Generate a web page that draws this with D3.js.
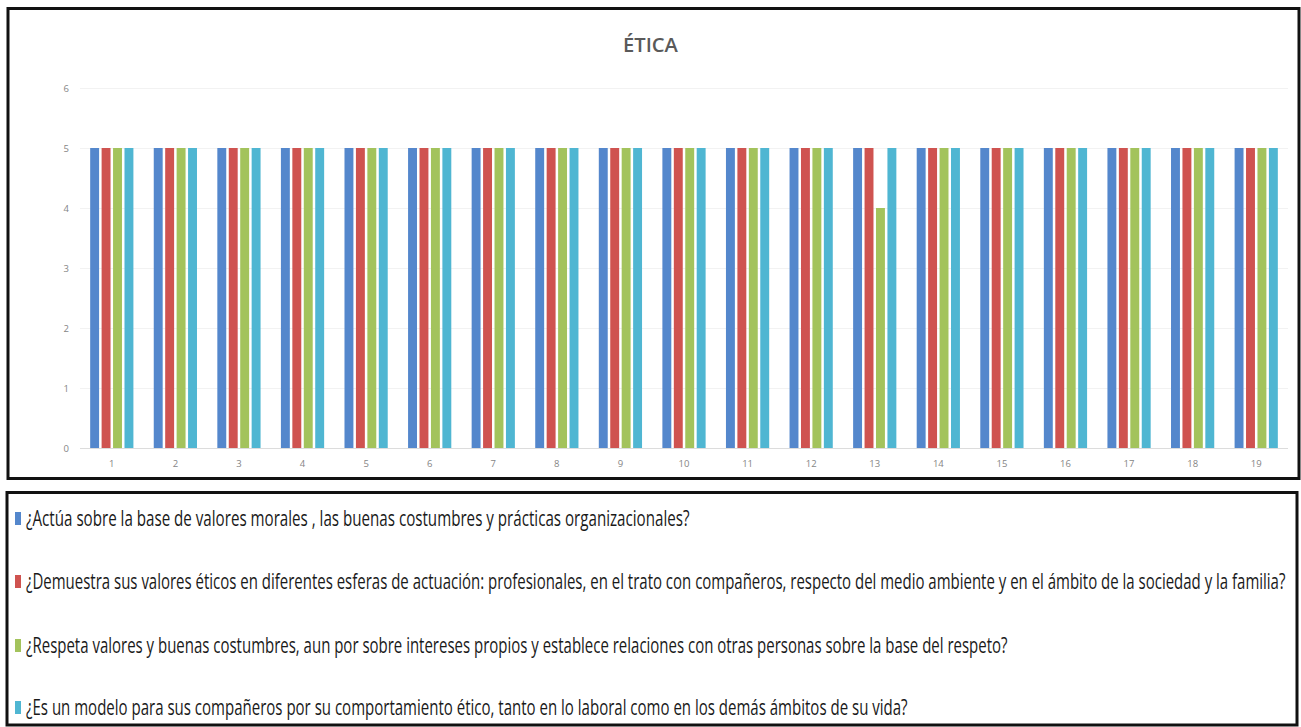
<!DOCTYPE html>
<html>
<head>
<meta charset="utf-8">
<script src="https://cdn.jsdelivr.net/npm/d3@7"></script>
<style>
  html, body { margin: 0; padding: 0; background: #fff; }
  svg { display: block; }
</style>
</head>
<body>
<svg id="chart" width="1301" height="727"></svg>
<script>
// Survey respondents (x categories), one group per respondent
const categories = ["1","2","3","4","5","6","7","8","9","10","11","12","13","14","15","16","17","18","19"];

// Score per respondent for each question
const seriesActua     = [5,5,5,5,5,5,5,5,5,5,5,5,5,5,5,5,5,5,5];
const seriesDemuestra = [5,5,5,5,5,5,5,5,5,5,5,5,5,5,5,5,5,5,5];
const seriesRespeta   = [5,5,5,5,5,5,5,5,5,5,5,5,4,5,5,5,5,5,5];
const seriesModelo    = [5,5,5,5,5,5,5,5,5,5,5,5,5,5,5,5,5,5,5];

const seriesNames = [
  "¿Actúa sobre la base de valores morales , las buenas costumbres y prácticas organizacionales?",
  "¿Demuestra sus valores éticos en diferentes esferas de actuación: profesionales, en el trato con compañeros, respecto del medio ambiente y en el ámbito de la sociedad y la familia?",
  "¿Respeta valores y buenas costumbres, aun por sobre intereses propios y establece relaciones con otras personas sobre la base del respeto?",
  "¿Es un modelo para sus compañeros por su comportamiento ético, tanto en lo laboral como en los demás ámbitos de su vida?"
];
const yTicks = [0,1,2,3,4,5,6];
const chartTitle = "ÉTICA";

const seriesValues = [seriesActua, seriesDemuestra, seriesRespeta, seriesModelo];
const colors = ["#5487cc", "#cf5350", "#a3c35c", "#4fb6d2"];

const svg = d3.select("#chart");

// Frames
svg.append("rect").attr("x", 8).attr("y", 8.5).attr("width", 1291).attr("height", 470)
  .attr("fill", "none").attr("stroke", "#111").attr("stroke-width", 3);
svg.append("rect").attr("x", 7).attr("y", 492.5).attr("width", 1290).attr("height", 232.5)
  .attr("fill", "none").attr("stroke", "#111").attr("stroke-width", 3);

// Draws a horizontally condensed text line of a given width
function condensedText(parent, str, x, y, width, attrs) {
  const t = parent.append("text").attr("x", 0).attr("y", 0).text(str);
  Object.entries(attrs).forEach(([k, v]) => t.attr(k, v));
  const natural = t.node().getComputedTextLength();
  const k = width / natural;
  t.attr("transform", `translate(${x},${y}) scale(${k},1)`);
  return t;
}

// Title
condensedText(svg, chartTitle, 623, 52, 55, {
  "font-family": "'Open Sans', 'Liberation Sans', sans-serif",
  "font-weight": "600",
  "font-size": 19,
  "fill": "#5a5a5a"
});

// Scales
const x0 = d3.scaleBand().domain(categories).range([80, 1288]).paddingInner(0.32).paddingOuter(0.16);
const x1 = d3.scaleBand().domain(d3.range(seriesValues.length)).range([0, x0.bandwidth()]).paddingInner(0.22);
const y = d3.scaleLinear().domain([0, 6]).range([448, 88]);

// Gridlines
svg.append("g").selectAll("line").data(yTicks).join("line")
  .attr("x1", 80).attr("x2", 1288)
  .attr("y1", d => y(d) + 0.5).attr("y2", d => y(d) + 0.5)
  .attr("stroke", d => d === 0 ? "#dcdcdc" : "#f2f2f2").attr("stroke-width", 1);

// Y axis labels
const yAxis = d3.axisLeft(y).tickValues(yTicks).tickSize(0).tickPadding(0).tickFormat(d3.format("d"));
const gy = svg.append("g").attr("transform", "translate(69,0)").call(yAxis);
gy.select(".domain").remove();
gy.selectAll("text").attr("font-family", "'Open Sans', sans-serif").attr("font-size", 9.5).attr("fill", "#858585");

// X axis labels
const xAxis = d3.axisBottom(x0).tickSize(0).tickPadding(0);
const gx = svg.append("g").attr("transform", "translate(0,460)").call(xAxis);
gx.select(".domain").remove();
gx.selectAll("text").attr("font-family", "'Open Sans', sans-serif").attr("font-size", 9.5).attr("fill", "#858585");

// Bars
const groups = svg.append("g").selectAll("g").data(categories).join("g")
  .attr("transform", d => `translate(${x0(d)},0)`);
groups.selectAll("rect")
  .data((d, i) => seriesValues.map((s, k) => ({ k, v: s[i] })))
  .join("rect")
  .attr("x", d => x1(d.k))
  .attr("width", x1.bandwidth())
  .attr("y", d => y(d.v))
  .attr("height", d => y(0) - y(d.v))
  .attr("fill", d => colors[d.k]);

// Legend
const legendY = [519, 582, 646, 708];
const legendW = [664, 1260, 982, 882];
const legend = svg.append("g");
seriesNames.forEach((name, i) => {
  legend.append("rect")
    .attr("x", 15).attr("y", legendY[i] - 7)
    .attr("width", 6).attr("height", 13)
    .attr("fill", colors[i]);
  condensedText(legend, name, 26, legendY[i] + 7, legendW[i], {
    "font-family": "'Open Sans', sans-serif",
    "font-size": 21,
    "fill": "#1a1a1a"
  });
});
</script>
</body>
</html>
